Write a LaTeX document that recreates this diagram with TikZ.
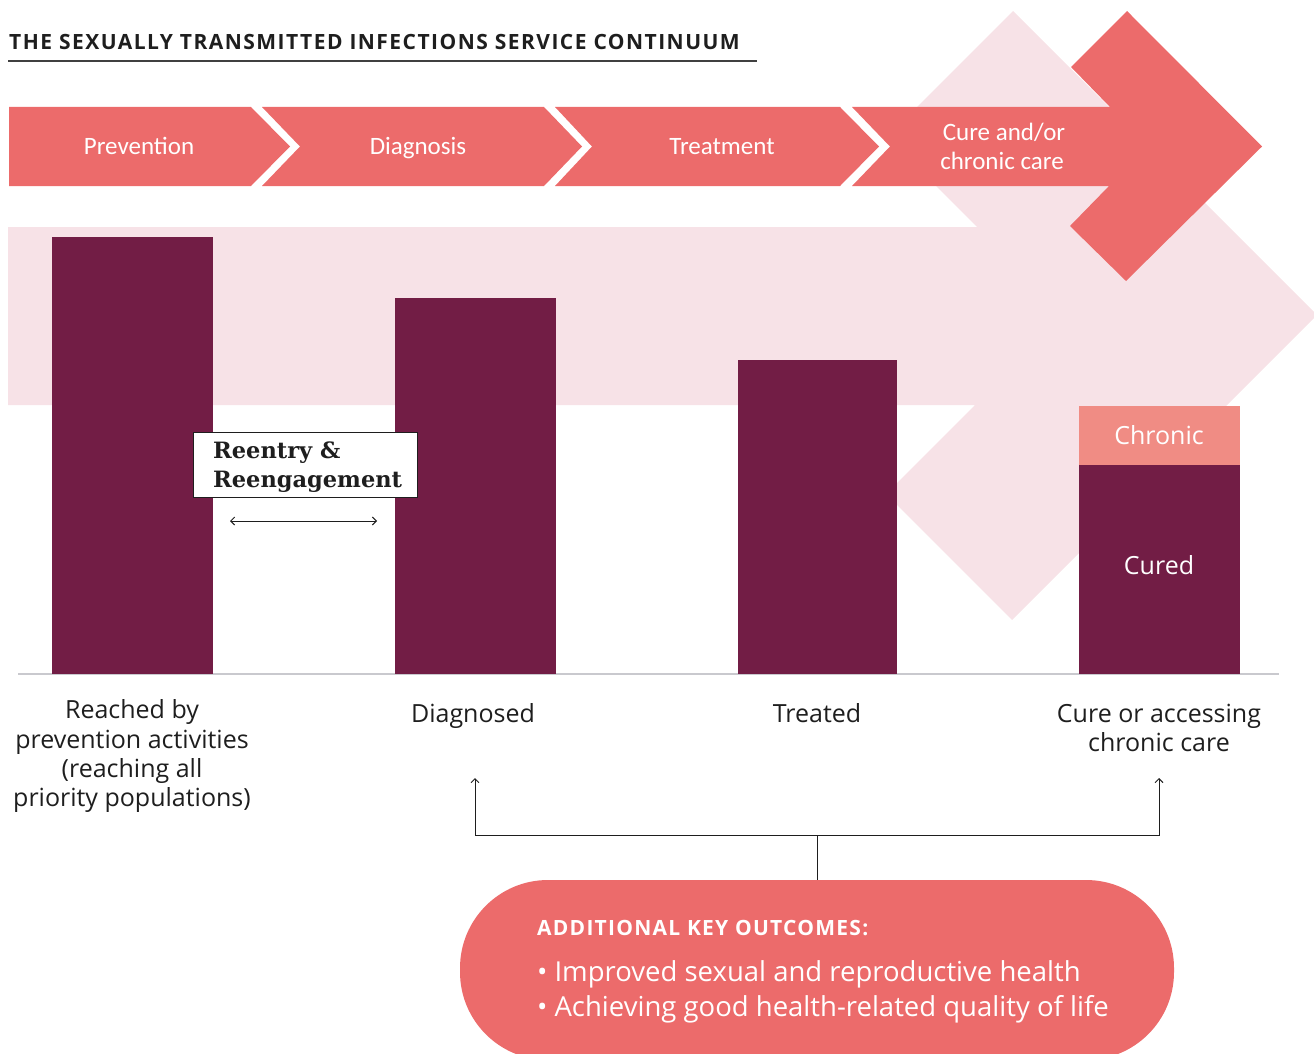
\documentclass[tikz,border=0pt]{standalone}
\usepackage{fontspec}
\setmainfont{Open Sans}
\newfontfamily\bannerfont{Carlito}
\newfontfamily\rfont{DejaVu Serif}
\usetikzlibrary{arrows.meta}
\definecolor{coral}{HTML}{EC6B6B}
\definecolor{lightpink}{HTML}{F7E2E7}
\definecolor{plum}{HTML}{721D45}
\definecolor{salmon}{HTML}{F08C84}
\definecolor{ink}{HTML}{1E1E1E}
\definecolor{axisgray}{HTML}{C9C9CE}
\begin{document}
\begin{tikzpicture}[x=1pt,y=-1pt,
  bannertxt/.style={text=white, font=\bannerfont\fontsize{25}{28}\selectfont, anchor=base, inner sep=0pt},
  lbl/.style={text=ink, font=\fontsize{25}{28}\selectfont, anchor=base, inner sep=0pt},
  inbar/.style={text=white, font=\fontsize{25}{28}\selectfont, anchor=base, inner sep=0pt},
  bar/.style={fill=plum, draw=none, anchor=south west, inner sep=0pt, minimum width=161pt},
  conn/.style={draw=ink, line width=1pt},
  tip/.style={-{Straight Barb[length=4pt,width=8pt]}},
  rtxt/.style={text=ink, font=\rfont\bfseries\fontsize{22.5}{26}\selectfont, anchor=base west, inner sep=0pt},
  pilltxt/.style={text=white, anchor=base west, inner sep=0pt}
]
\useasboundingbox (0,0) rectangle (1314,1054);
\clip (0,0) rectangle (1314,1054);

% title
\node[anchor=base west, inner sep=0pt, text=ink, font=\bfseries\fontsize{21}{24}\selectfont\addfontfeature{LetterSpace=7}] (title) at (9,50) {THE SEXUALLY TRANSMITTED INFECTIONS SERVICE CONTINUUM};
\draw[line width=1.5pt, draw=ink!85] (8,61) -- (757,61);

% large light pink arrow
\fill[lightpink] (8,227) -- (977,227) -- (887,137) -- (1013,11) -- (1317,315) -- (1012,620) -- (886,494) -- (975,405) -- (8,405) -- cycle;

% banner segments
\fill[coral] (9,107) -- (251,107) -- (290,146.5) -- (251,186) -- (9,186) -- cycle;
\fill[coral] (262,107) -- (544,107) -- (582,146.5) -- (544,186) -- (262,186) -- (300,146.5) -- cycle;
\fill[coral] (555,107) -- (840,107) -- (879,146.5) -- (840,186) -- (555,186) -- (592,146.5) -- cycle;
\fill[coral] (852,107) -- (1110,107) -- (1071,67) -- (1127,11) -- (1262,146.5) -- (1126,281) -- (1070,226) -- (1109,186) -- (852,186) -- (890,146.5) -- cycle;

\node[bannertxt] (bprev) at (139,154) {Prevention};
\node[bannertxt] (bdiag) at (418,154) {Diagnosis};
\node[bannertxt] (btreat) at (722,154) {Treatment};
\node[bannertxt] (bcure1) at (1004,140) {Cure and/or};
\node[bannertxt] (bcure2) at (1002,169) {chronic care};

% axis
\draw[axisgray, line width=1.2pt] (18,674) -- (1279,674);

% bars
\node[bar, minimum height=437pt] (bar1) at (52,674) {};
\node[bar, minimum height=376pt] (bar2) at (395,674) {};
\node[bar, minimum height=314pt, minimum width=159pt] (bar3) at (738,674) {};
\node[bar, minimum height=209pt] (bar4) at (1079,674) {};
\node[bar, fill=salmon, minimum height=59pt] (bar4c) at (1079,465) {};
\node[inbar] (chronic) at (1159,444) {Chronic};
\node[inbar] (cured) at (1159,574) {Cured};

% reentry box
\node[draw=ink, line width=0.8pt, fill=white, inner sep=0pt, minimum width=224pt, minimum height=65pt, anchor=north west] (rbox) at (193,432) {};
\node[rtxt] (r1) at (213,458) {Reentry \&};
\node[rtxt] (r2) at (213,487) {Reengagement};
\coordinate (ra1) at (230,521);
\coordinate (ra2) at (377,521);
\draw[conn, {Straight Barb[length=4pt,width=8pt]}-{Straight Barb[length=4pt,width=8pt]}] (ra1) -- (ra2);

% labels
\node[lbl] (l1a) at (132,718) {Reached by};
\node[lbl] (l1b) at (132,748) {prevention activities};
\node[lbl] (l1c) at (132,777) {(reaching all};
\node[lbl] (l1d) at (132,806) {priority populations)};
\node[lbl] (l2) at (473,722) {Diagnosed};
\node[lbl] (l3) at (817,722) {Treated};
\node[lbl] (l4a) at (1159,722) {Cure or accessing};
\node[lbl] (l4b) at (1159,751) {chronic care};

% pill
\node[fill=coral, draw=none, rounded corners=88pt, minimum width=714pt, minimum height=180pt, inner sep=0pt] (pill) at (817,970) {};
\node[pilltxt, font=\bfseries\fontsize{21}{24}\selectfont\addfontfeature{LetterSpace=6}] (ptitle) at (537,935) {ADDITIONAL KEY OUTCOMES:};
\node[pilltxt, font=\fontsize{27.5}{30}\selectfont] (pb1) at (537,981) {•\hspace{7pt}Improved sexual and reproductive health};
\node[pilltxt, font=\fontsize{27.5}{30}\selectfont] (pb2) at (537,1016) {•\hspace{7pt}Achieving good health-related quality of life};

% connectors
\coordinate (jn) at (817,835);
\coordinate (aL) at (475,778);
\coordinate (aR) at (1159,778);
\draw[conn] (pill.north) -- (jn);
\draw[conn, tip] (jn) -| (aL);
\draw[conn, tip] (jn) -| (aR);
\end{tikzpicture}
\end{document}
